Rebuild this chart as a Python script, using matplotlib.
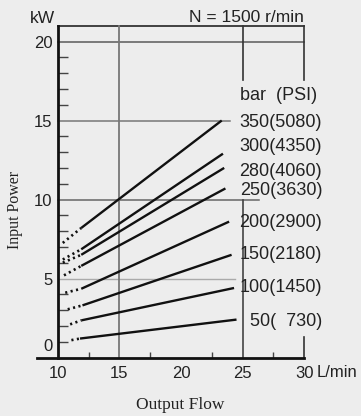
import matplotlib
matplotlib.use("Agg")
import matplotlib.pyplot as plt

plt.rcParams['font.family'] = ['Liberation Sans', 'DejaVu Sans']

# pressure curves: dotted part from (flow_dot, power_dot) to (flow_solid, power_solid),
# then solid up to (flow_end, power_end)
bar = [350, 300, 280, 250, 200, 150, 100, 50]
psi = [5080, 4350, 4060, 3630, 2900, 2180, 1450, 730]
flow_dot = [10.4, 10.4, 10.4, 10.5, 10.6, 10.8, 11.0, 11.1]
power_dot = [7.25, 6.2, 6.0, 5.2, 4.1, 3.05, 2.1, 1.1]
flow_solid = [11.9, 11.9, 11.9, 11.9, 11.9, 12.0, 11.9, 11.8]
power_solid = [8.2, 6.85, 6.5, 5.8, 4.35, 3.3, 2.35, 1.2]
flow_end = [23.3, 23.4, 23.5, 23.6, 23.9, 24.1, 24.3, 24.5]
power_end = [15.0, 12.9, 12.0, 10.7, 8.6, 6.5, 4.4, 2.4]

xticks = [10, 15, 20, 25, 30]
yticks = [5, 10, 15, 20]
label_y = [14.9, 13.35, 11.8, 10.55, 8.55, 6.5, 4.4, 2.3]

bg = '#ededed'
fig = plt.figure(figsize=(3.61, 4.16), dpi=100, facecolor=bg)
ax = fig.add_axes([0.1022, 0.1406, 0.7407, 0.7976])
ax.set_xlim(8.3, 30)
ax.set_ylim(0, 21)
ax.patch.set_visible(False)
ax.spines['top'].set_visible(False)
ax.spines['right'].set_visible(False)
ax.spines['left'].set_position(('data', 10))
ax.spines['left'].set_linewidth(2)
ax.spines['bottom'].set_linewidth(2)
ax.spines['left'].set_color('#111')
ax.spines['bottom'].set_color('#111')

ax.set_xticks(xticks)
ax.set_xticks([12.5, 17.5, 22.5, 27.5], minor=True)
ax.set_yticks(yticks)
ax.set_yticks([i for i in range(1, 21) if i % 5 != 0], minor=True)
ax.tick_params(axis='x', which='major', length=0, pad=6, labelsize=12, colors='#222')
ax.tick_params(axis='x', which='minor', direction='in', length=4, width=1, color='#444')
ax.tick_params(axis='y', which='major', length=0, pad=4, labelsize=12, colors='#222')
ax.tick_params(axis='y', which='minor', direction='in', length=7, width=1, color='#444')
ax.annotate('0', xy=(10, 0), xytext=(-4, 8), textcoords='offset points',
            ha='right', va='center', fontsize=12, color='#222', annotation_clip=False)

# frame and grid
kw = dict(clip_on=False, zorder=1)
ax.plot([10, 30], [21, 21], color='#333', lw=1.3, **kw)
ax.plot([10, 30], [20, 20], color='#666', lw=1.2, **kw)
ax.plot([10, 24.0], [15, 15], color='#777', lw=1.1, **kw)
ax.plot([10, 26.3], [10, 10], color='#666', lw=1.1, **kw)
ax.plot([10, 24.4], [5, 5], color='#aaa', lw=1.0, **kw)
ax.plot([15, 15], [0, 21], color='#777', lw=1.3, **kw)
ax.plot([25, 25], [17.55, 21], color='#333', lw=1.2, **kw)
ax.plot([25, 25], [0, 10], color='#444', lw=1.2, **kw)
ax.plot([30, 30], [17.55, 21], color='#333', lw=1.2, **kw)
ax.plot([30, 30], [0, 1.3], color='#333', lw=1.2, **kw)

for i in range(len(bar)):
    ax.plot([flow_dot[i], flow_solid[i]], [power_dot[i], power_solid[i]],
            color='#111', lw=1.9, linestyle=(0, (0.8, 1.3)), zorder=3)
    ax.plot([flow_solid[i], flow_end[i]], [power_solid[i], power_end[i]],
            color='#111', lw=1.7, solid_capstyle='butt', zorder=3)
    ax.text(31.45, label_y[i], f"{bar[i]}({psi[i]:\u2007>4})", ha='right', va='center',
            fontsize=13, color='#222', clip_on=False)

ax.text(24.75, 16.6, 'bar  (PSI)', ha='left', va='center', fontsize=13, color='#222')
ax.text(30, 21.25, 'N = 1500 r/min', ha='right', va='baseline', fontsize=12.5, color='#222')
ax.text(9.8, 21.15, 'kW', ha='right', va='baseline', fontsize=12.5, color='#222')
ax.annotate('L/min', xy=(31.0, 0), xytext=(0, -11), textcoords='offset points',
            ha='left', va='center', fontsize=12, color='#222', annotation_clip=False)

ax.set_xlabel('Output Flow', family='Liberation Serif', fontsize=12.5, va='center', color='#222')
ax.xaxis.set_label_coords(0.537, -0.143)
ax.set_ylabel('Input Power', family='Liberation Serif', fontsize=11.5, va='center', color='#222')
ax.yaxis.set_label_coords(-0.082, 0.445)

fig.savefig('out.png', dpi=100, facecolor=bg)
